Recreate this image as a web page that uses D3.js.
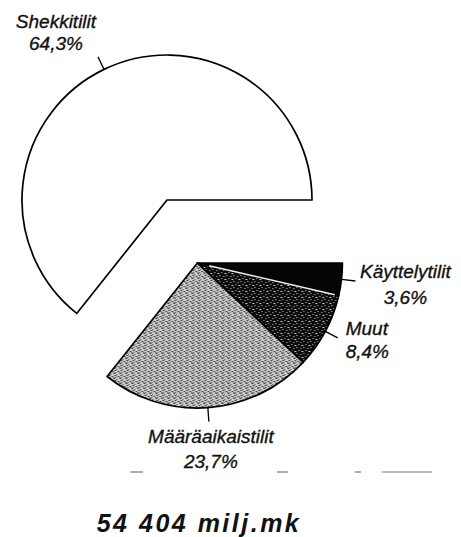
<!DOCTYPE html>
<html>
<head>
<meta charset="utf-8">
<script src="https://cdn.jsdelivr.net/npm/d3@7"></script>
<style>
  body { margin: 0; background: #fff; }
  svg { display: block; font-family: "Liberation Sans", Arial, sans-serif; }
  .lbl { font-style: italic; font-size: 19px; fill: #111; stroke: #111; stroke-width: 0.35px; }
  .total { font-style: italic; font-weight: bold; font-size: 25px; letter-spacing: 2.5px; fill: #111; }
</style>
</head>
<body>
<svg id="chart" width="461" height="537"></svg>
<script>
// ---- data ----
const categories = ["Shekkitilit", "Käyttelytilit", "Muut", "Määräaikaistilit"];
const shares = [64.3, 3.6, 8.4, 23.7];
const shareLabels = ["64,3%", "3,6%", "8,4%", "23,7%"];
const totalLabel = "54 404 milj.mk";

// ---- layout ----
const cx = 167, cy = 200, radius = 145, explode = 70;
const fills = ["#ffffff", "#050505", "url(#stippleDark)", "url(#stippleLight)"];
// label placement relative to leader end: [anchor, dx, dy1, dy2]
const labelPos = [
    ["middle", -42, -29, -7],
    ["middle", 50, -3, 23],
    ["start", 8, -3, 20],
    ["middle", 2, 21, 46]
];

const svg = d3.select("#chart");
const defs = svg.append("defs");

// stipple textures like the scanned print
const light = defs.append("pattern").attr("id", "stippleLight")
    .attr("patternUnits", "userSpaceOnUse").attr("width", 6).attr("height", 5);
light.append("rect").attr("width", 6).attr("height", 5).attr("fill", "#cccccc");
[[0,0,2],[3,1,1],[1,2,2],[4,3,2],[0,4,1],[2,4,1]].forEach(([x, y, w]) =>
    light.append("rect").attr("x", x).attr("y", y).attr("width", w).attr("height", 1).attr("fill", "#444"));

const dark = defs.append("pattern").attr("id", "stippleDark")
    .attr("patternUnits", "userSpaceOnUse").attr("width", 7).attr("height", 6);
dark.append("rect").attr("width", 7).attr("height", 6).attr("fill", "#0c0c0c");
[[1,0],[5,1],[3,3],[0,4],[6,4]].forEach(([x, y]) =>
    dark.append("rect").attr("x", x).attr("y", y).attr("width", 1).attr("height", 1).attr("fill", "#ccc"));

const start = Math.PI / 2 - 2 * Math.PI * shares[0] / 100;
const pie = d3.pie().sort(null).value(d => d)
    .startAngle(start).endAngle(start + 2 * Math.PI);
const arcs = pie(shares);

const arc = d3.arc().innerRadius(0).outerRadius(radius);

// the exploded group (all but the first slice)
const rest = arcs.slice(1);
const midRest = (rest[0].startAngle + rest[rest.length - 1].endAngle) / 2;
const ox = Math.sin(midRest) * explode, oy = -Math.cos(midRest) * explode;

arcs.forEach((a, i) => {
    const gx = i === 0 ? cx : cx + ox;
    const gy = i === 0 ? cy : cy + oy;
    const g = svg.append("g").attr("transform", `translate(${gx},${gy})`);

    g.append("path")
        .attr("d", arc(a))
        .attr("fill", fills[i])
        .attr("stroke", "#000")
        .attr("stroke-width", 1.7)
        .attr("stroke-linejoin", "round");

    // leader line at mid angle
    const mid = (a.startAngle + a.endAngle) / 2;
    const p0 = [Math.sin(mid) * radius, -Math.cos(mid) * radius];
    const p1 = [Math.sin(mid) * (radius + 14), -Math.cos(mid) * (radius + 14)];
    g.append("line")
        .attr("x1", p0[0]).attr("y1", p0[1])
        .attr("x2", p1[0]).attr("y2", p1[1])
        .attr("stroke", "#000").attr("stroke-width", 1.3);

    const [anchor, dx, dy1, dy2] = labelPos[i];
    const t = g.append("text").attr("class", "lbl").attr("text-anchor", anchor);
    t.append("tspan").attr("x", p1[0] + dx).attr("y", p1[1] + dy1).text(categories[i]);
    t.append("tspan").attr("x", p1[0] + dx).attr("y", p1[1] + dy2).text(shareLabels[i]);
});

// light seam between Käyttelytilit and Muut
const seam = arcs[1].endAngle;
svg.append("line")
    .attr("transform", `translate(${cx + ox},${cy + oy})`)
    .attr("x1", Math.sin(seam) * 12).attr("y1", -Math.cos(seam) * 12)
    .attr("x2", Math.sin(seam) * (radius - 4)).attr("y2", -Math.cos(seam) * (radius - 4))
    .attr("stroke", "#eee").attr("stroke-width", 1.5);

// scanner specks under the chart
const specks = [[130, 143], [277, 288], [355, 361], [382, 432]];
svg.selectAll("line.speck").data(specks).join("line")
    .attr("class", "speck")
    .attr("x1", d => d[0]).attr("x2", d => d[1])
    .attr("y1", 472).attr("y2", 472)
    .attr("stroke", "#777").attr("stroke-width", 1.2);

svg.append("text").attr("class", "total")
    .attr("x", 199).attr("y", 532)
    .attr("text-anchor", "middle")
    .text(totalLabel);
</script>
</body>
</html>
